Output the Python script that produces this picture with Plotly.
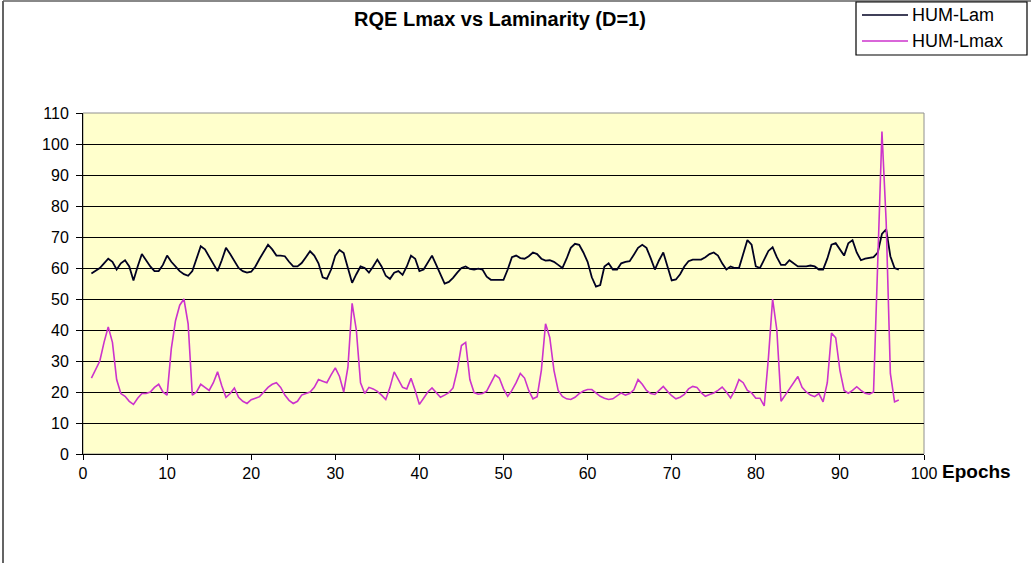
import plotly.graph_objects as go

hum_lam = [
    # 1 .. 20
    58.2, 59, 60, 61.5, 63, 62, 59.5, 61.5, 62.5, 60.5, 56, 60.5, 64.5, 62.5, 60.5, 59, 59, 61, 64, 62,
    60.5, 59, 58, 57.5, 59, 63, 67, 66, 63.5, 61, 59, 62.5, 66.5, 64.5, 62, 60, 59, 58.5, 58.8,
    # 20.5 .. 40
    60.5, 63, 65.5, 67.5, 66, 64, 64, 63.8, 62, 60.5, 60.5, 61.6, 63.5, 65.4, 64, 61.5, 57, 56.5, 59.5, 64,
    65.8, 64.8, 60, 55.2, 58, 60.5, 60, 58.5, 60.5, 62.7, 60.5, 57.5, 56.5, 58.5, 59, 57.8, 60.5, 64, 63, 59,
    # 40.5 .. 60
    59.5, 62, 64, 61, 58, 55, 55.5, 56.8, 58.5, 60, 60.5, 59.7, 59.5, 59.8, 59.5, 57.2, 56.2, 56.2, 56.2, 56.2,
    59.5, 63.5, 64, 63.2, 63, 63.8, 65, 64.5, 63, 62.4, 62.5, 62, 61, 60, 63, 66.5, 67.8, 67.5, 65, 62,
    # 60.5 .. 80
    57, 54, 54.5, 60.5, 61.5, 59.5, 59.5, 61.5, 62, 62.2, 64.3, 66.5, 67.5, 66.5, 63.2, 59.5, 62.5, 65, 60.5, 56,
    56.3, 58, 60.5, 62.2, 62.7, 62.7, 62.7, 63.5, 64.5, 65, 64, 61.5, 59.5, 60.5, 60, 60, 64.5, 69, 67.5, 60.5,
    # 80.5 .. 97
    60, 63, 65.5, 66.7, 63.5, 61, 61, 62.5, 61.5, 60.5, 60.5, 60.5, 60.8, 60.5, 59.5, 59.5, 63,
    67.5, 68, 66, 64, 68, 69, 65, 62.5, 63, 63.3, 63.5, 65, 71, 72.5, 63.8, 60, 59.5,
]

hum_lmax = [
    # 1 .. 20
    24.5, 27, 30, 36, 41, 36, 24, 19.5, 18.6, 17, 16, 18, 19.5, 19.5, 20, 21.5, 22.5, 20, 19, 34,
    43, 48, 50, 42, 19, 20, 22.5, 21.5, 20.5, 23, 26.5, 22, 18.3, 19.5, 21.3, 18.3, 17, 16.3, 17.5,
    # 20.5 .. 40
    18, 18.5, 20, 21.5, 22.5, 23, 21.5, 19, 17.3, 16.3, 17, 19, 19.5, 20, 21.5, 24, 23.5, 23, 25.5, 27.8,
    25, 20, 28, 48.6, 40, 23, 19.5, 21.5, 21, 20.2, 19, 17.6, 21.5, 26.5, 24, 21.5, 21, 24.4, 20.5, 16,
    # 40.5 .. 60
    18, 20, 21.3, 19.7, 18.3, 19, 19.8, 21.3, 27, 35, 36, 24, 19.8, 19.3, 19.5, 20.3, 22.8, 25.5, 24.5, 21,
    18.6, 20.5, 23, 26, 24.5, 20.5, 17.8, 18.5, 27, 42, 37.6, 27, 20.5, 18.6, 17.8, 17.6, 18.3, 19.5, 20.3, 20.8,
    # 60.5 .. 80
    20.8, 19.8, 18.6, 18, 17.6, 17.8, 18.8, 19.7, 19, 19.5, 20.7, 24, 22.5, 20.5, 19.5, 19.2, 20.5, 21.8, 20.2, 18.8,
    17.8, 18.3, 19.2, 21, 21.8, 21.5, 19.8, 18.6, 19.2, 19.7, 20.5, 21.6, 20, 18.1, 20.5, 24, 23, 20.5, 19.7, 18,
    # 80.5 .. 97
    18, 15.5, 31, 50, 40, 17, 19, 21, 23.4, 25, 21.5, 20, 19, 18.5, 19.5, 16.8, 23,
    39, 37.5, 27, 20.5, 19.6, 20.5, 21.7, 20.5, 19.6, 19.3, 20, 62, 104, 75, 26, 16.8, 17.4,
]

series_names = ["HUM-Lam", "HUM-Lmax"]
series_colors = ["#000022", "#CC33CC"]

epochs = [1 + 0.5 * i for i in range(len(hum_lam))]

x_ticks = list(range(0, 101, 10))
y_ticks = list(range(0, 111, 10))

W, H = 1031, 563
L, R, T, B = 83, 107, 113, 109
pw, ph = W - L - R, H - T - B


def px(xp):
    return (xp - L) / pw


def py(yp):
    return (H - B - yp) / ph


FONT = "Liberation Sans, Arial, sans-serif"

fig = go.Figure()
fig.add_trace(go.Scatter(x=epochs, y=hum_lam, mode="lines", name=series_names[0],
                         line=dict(color=series_colors[0], width=1.8)))
fig.add_trace(go.Scatter(x=epochs, y=hum_lmax, mode="lines", name=series_names[1],
                         line=dict(color=series_colors[1], width=1.6)))

fig.update_layout(
    width=W, height=H,
    margin=dict(l=L, r=R, t=T, b=B),
    paper_bgcolor="white",
    plot_bgcolor="#FFFFCC",
    font=dict(family=FONT, size=16, color="black"),
    title=dict(text="<b>RQE Lmax vs Laminarity (D=1)</b>", x=500 / W, xanchor="center",
               y=1 - 19 / H, yanchor="middle", font=dict(family=FONT, size=20, color="black")),
    xaxis=dict(range=[0, 100], tickvals=x_ticks, showgrid=False, zeroline=False,
               showline=True, linecolor="black", linewidth=1, ticks="outside", ticklen=5,
               tickcolor="black", tickfont=dict(size=16)),
    yaxis=dict(range=[0, 110], tickvals=y_ticks, showgrid=True, gridcolor="black", gridwidth=1,
               zeroline=False, showline=True, linecolor="black", linewidth=1, ticks="outside",
               ticklen=6, tickcolor="black", tickfont=dict(size=16), ticklabelstandoff=4),
    showlegend=False,
)

# plot-area border (grey, Excel style)
fig.add_shape(type="rect", xref="paper", yref="paper", x0=0, x1=1, y0=0, y1=1,
              line=dict(color="#909090", width=1), layer="below")
# outer chart frame (left and top edges visible)
fig.add_shape(type="line", xref="paper", yref="paper", x0=px(3), x1=px(3), y0=py(1), y1=py(H + 5),
              line=dict(color="#303030", width=1.5))
fig.add_shape(type="line", xref="paper", yref="paper", x0=px(3), x1=px(W + 5), y0=py(1), y1=py(1),
              line=dict(color="#606060", width=1.5))

# legend box (Excel style, top-right corner)
fig.add_shape(type="rect", xref="paper", yref="paper", x0=px(856), x1=px(1027), y0=py(55), y1=py(2),
              line=dict(color="black", width=1.2), fillcolor="white")
for i, (name, col) in enumerate(zip(series_names, series_colors)):
    yc = 15 + 26 * i
    fig.add_shape(type="line", xref="paper", yref="paper", x0=px(862), x1=px(908), y0=py(yc), y1=py(yc),
                  line=dict(color=col, width=1.6))
    fig.add_annotation(text=name, xref="paper", yref="paper", x=px(910), y=py(yc),
                       xanchor="left", yanchor="middle", showarrow=False,
                       font=dict(family=FONT, size=18, color="black"))

fig.add_annotation(text="<b>Epochs</b>", xref="paper", yref="paper", x=px(940), y=py(471),
                   xanchor="left", yanchor="middle", showarrow=False,
                   font=dict(family=FONT, size=19, color="black"))

fig.write_html("out.html", config={"displayModeBar": False},
               post_script="document.body.style.margin='0px';document.body.style.overflow='hidden';")
